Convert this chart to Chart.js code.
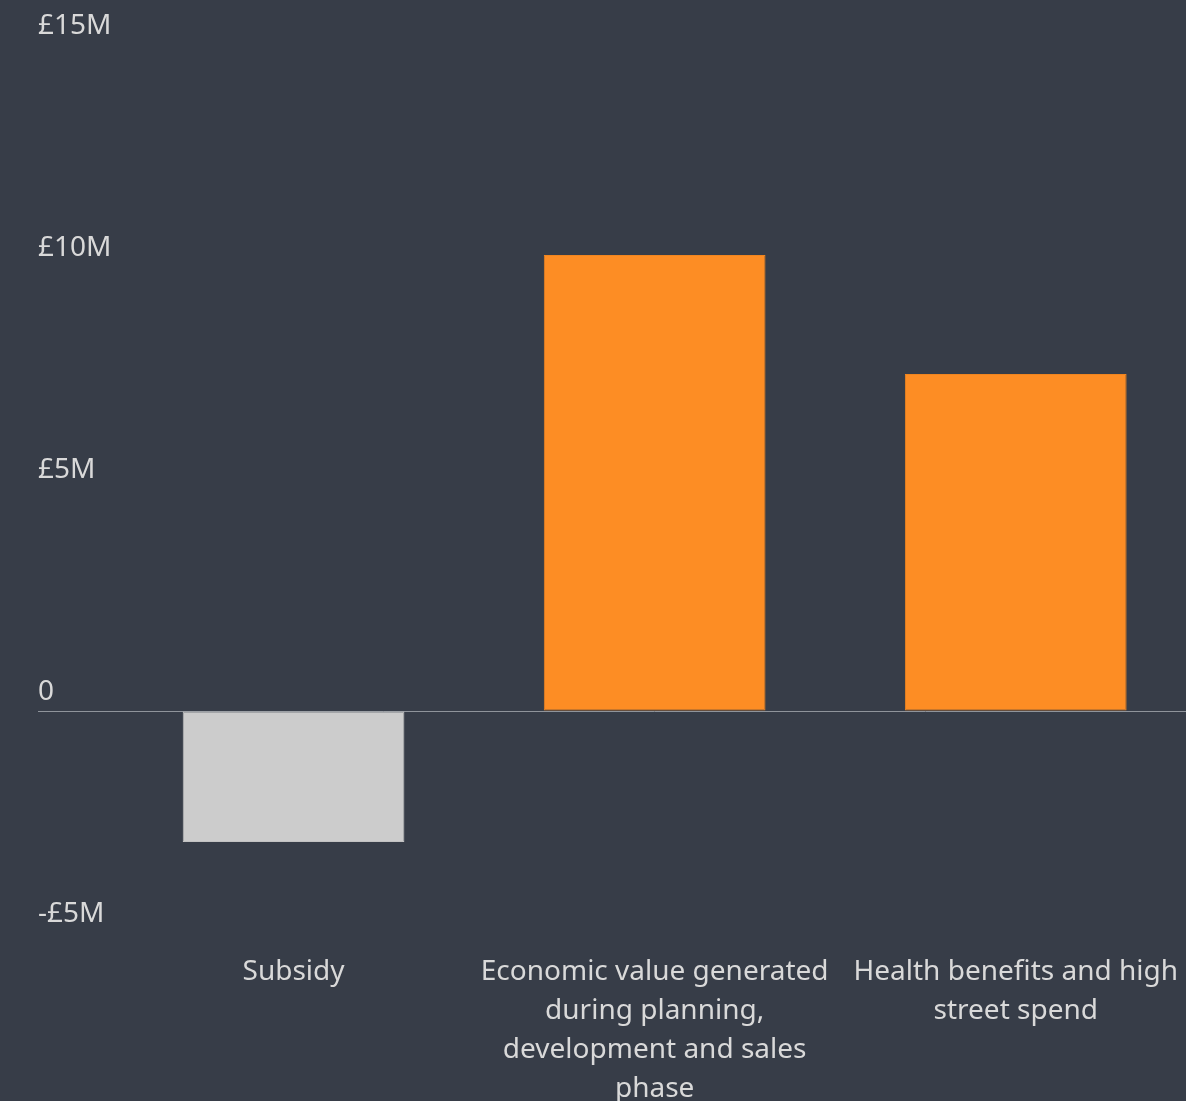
<!DOCTYPE html>
<html>
<head>
<meta charset="utf-8">
<script src="https://cdn.jsdelivr.net/npm/chart.js@4/dist/chart.umd.min.js"></script>
<style>
    html, body {
        margin: 0;
        padding: 0;
        background: #373d48;
        overflow: hidden;
    }
    #chartWrap {
        width: 1198px;
        height: 1101px;
    }
</style>
</head>
<body>
<div id="chartWrap"><canvas id="valueChart"></canvas></div>
<script>
// Categories (wrapped onto lines) and values in £M
const categories = [
    ['Subsidy'],
    ['Economic value generated', 'during planning,', 'development and sales', 'phase'],
    ['Health benefits and high', 'street spend']
];
const values = [-2.95, 10.27, 7.59];
const yTicks = [-5, 0, 5, 10, 15];

const barColors = ['#cccccc', '#fd8d24', '#fd8d24'];
const barBorders = ['#c2c2c2', '#f0851f', '#f0851f'];
const textColor = '#d9d9d9';
const zeroLineColor = '#8f949b';
const fontFamily = '"Noto Sans", "Open Sans", sans-serif';

function formatMoney(v) {
    if (v === 0) return '0';
    return (v < 0 ? '-£' : '£') + Math.abs(v) + 'M';
}

const ctx = document.getElementById('valueChart').getContext('2d');

new Chart(ctx, {
    type: 'bar',
    data: {
        labels: categories,
        datasets: [{
            data: values,
            backgroundColor: barColors,
            borderColor: barBorders,
            borderWidth: 1,
            borderSkipped: false,
            categoryPercentage: 1,
            barPercentage: 0.614
        }]
    },
    options: {
        responsive: true,
        maintainAspectRatio: false,
        animation: false,
        layout: {
            padding: { left: 38, top: 45, right: 0, bottom: 0 }
        },
        plugins: {
            legend: { display: false },
            tooltip: { enabled: false }
        },
        scales: {
            x: {
                grid: { display: false, drawTicks: false },
                border: { display: false },
                ticks: {
                    color: textColor,
                    font: { family: fontFamily, size: 28, lineHeight: 1.39 },
                    padding: 20,
                    maxRotation: 0,
                    autoSkip: false
                },
                afterFit: function(scale) {
                    scale.height = 168;
                }
            },
            y: {
                min: -5,
                max: 15,
                afterBuildTicks: function(scale) {
                    scale.ticks = yTicks.map(v => ({ value: v }));
                },
                grid: {
                    color: c => c.tick && c.tick.value === 0 ? zeroLineColor : 'rgba(0,0,0,0)',
                    tickColor: c => c.tick && c.tick.value === 0 ? zeroLineColor : 'rgba(0,0,0,0)',
                    tickLength: 75,
                    lineWidth: 1
                },
                border: { display: false },
                ticks: {
                    color: textColor,
                    font: { family: fontFamily, size: 28 },
                    crossAlign: 'far',
                    labelOffset: -19,
                    callback: v => formatMoney(v)
                },
                afterFit: function(scale) {
                    scale.width = 75;
                }
            }
        }
    }
});
</script>
</body>
</html>
